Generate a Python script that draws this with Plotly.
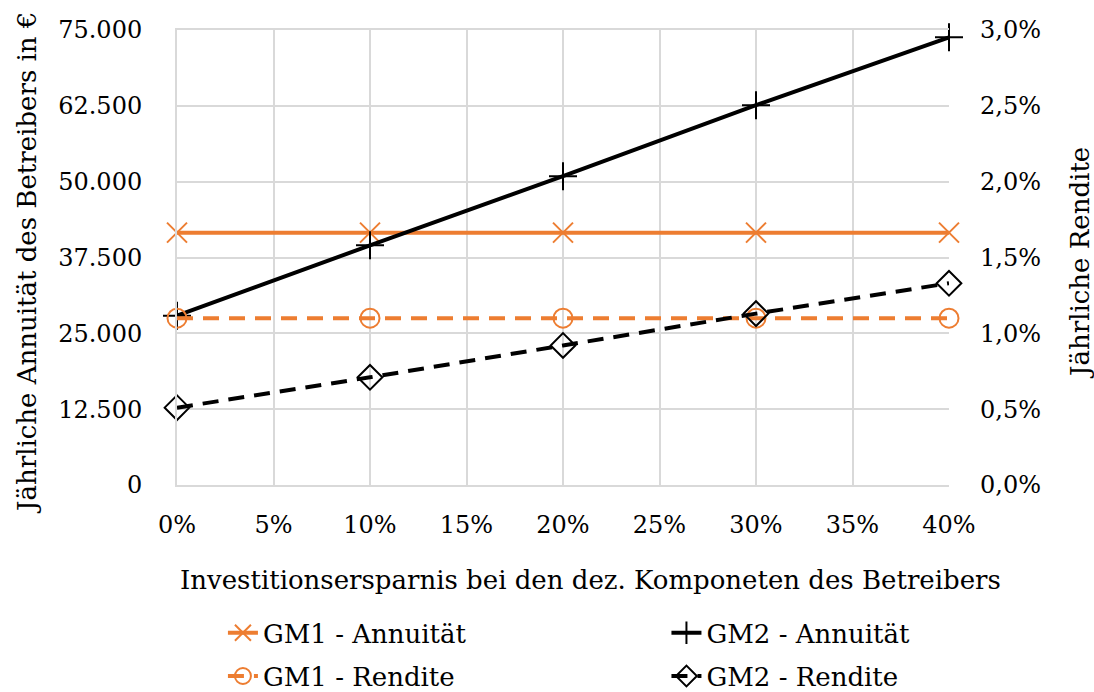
import plotly.graph_objects as go

x_vals = [0.0, 0.10, 0.20, 0.30, 0.40]
gm1_annuitaet = [41600, 41600, 41600, 41600, 41600]
gm2_annuitaet = [27900, 39500, 50900, 62600, 73800]
gm1_rendite = [0.0110, 0.0110, 0.0110, 0.0110, 0.0110]
gm2_rendite = [0.0051, 0.0071, 0.0092, 0.0113, 0.0133]

names = ["GM1 - Annuität", "GM2 - Annuität", "GM1 - Rendite", "GM2 - Rendite"]
x_title = "Investitionsersparnis bei den dez. Komponeten des Betreibers"
y_title = "Jährliche Annuität des Betreibers in €"
y2_title = "Jährliche Rendite"

ORANGE = "#ED7D31"
BLACK = "#000000"
FONT = "DejaVu Serif"
FS_TICK = 24
FS_TEXT = 26

fig = go.Figure()
fig.add_trace(go.Scatter(x=x_vals, y=gm1_annuitaet, name=names[0], mode="lines+markers", legend="legend",
                         cliponaxis=False, line=dict(color=ORANGE, width=4),
                         marker=dict(symbol="x-thin", size=20, line=dict(color=ORANGE, width=2))))
fig.add_trace(go.Scatter(x=x_vals, y=gm2_annuitaet, name=names[1], mode="lines+markers", legend="legend2",
                         cliponaxis=False, line=dict(color=BLACK, width=4),
                         marker=dict(symbol="cross-thin", size=20, line=dict(color=BLACK, width=2))))
fig.add_trace(go.Scatter(x=x_vals, y=gm1_rendite, name=names[2], mode="lines+markers", yaxis="y2", legend="legend3",
                         cliponaxis=False, line=dict(color=ORANGE, width=4, dash="16px,10px"),
                         marker=dict(symbol="circle-open", size=19, color=ORANGE, line=dict(color=ORANGE, width=2))))
fig.add_trace(go.Scatter(x=x_vals, y=gm2_rendite, name=names[3], mode="lines+markers", yaxis="y2", legend="legend4",
                         cliponaxis=False, line=dict(color=BLACK, width=4, dash="16px,10px"),
                         marker=dict(symbol="diamond-open", size=19, color=BLACK, line=dict(color=BLACK, width=2))))

grid = "#d9d9d9"
leg_common = dict(xanchor="left", yanchor="middle", font=dict(size=FS_TEXT, family=FONT),
                  bgcolor="rgba(0,0,0,0)", itemwidth=30)
row1, row2 = -0.325, -0.420
col1, col2 = 0.0595, 0.634

fig.update_layout(
    width=1094, height=692,
    margin=dict(l=177, r=145, t=30, b=207, autoexpand=False),
    paper_bgcolor="white", plot_bgcolor="white",
    separators=",.",
    font=dict(family=FONT, size=FS_TICK, color="black"),
    showlegend=True,
    xaxis=dict(range=[0, 0.40], tickvals=[0, 0.05, 0.10, 0.15, 0.20, 0.25, 0.30, 0.35, 0.40],
               tickformat=".0%", showgrid=True, gridcolor=grid, gridwidth=2,
               showline=True, linecolor=grid, linewidth=2, mirror=True, zeroline=False,
               ticks="", ticklabelstandoff=17, tickfont=dict(size=FS_TICK), automargin=False),
    yaxis=dict(range=[0, 75000], tickvals=[0, 12500, 25000, 37500, 50000, 62500, 75000],
               tickformat=",.0f", showgrid=True, gridcolor=grid, gridwidth=2,
               showline=True, linecolor=grid, linewidth=2, zeroline=False, ticks="",
               ticklabelstandoff=28, tickfont=dict(size=FS_TICK), automargin=False),
    yaxis2=dict(range=[0, 0.03], tickvals=[0, 0.005, 0.01, 0.015, 0.02, 0.025, 0.03],
                tickformat=".1%", overlaying="y", side="right", showgrid=False, zeroline=False,
                showline=False, ticks="", ticklabelstandoff=30, tickfont=dict(size=FS_TICK),
                automargin=False),
    legend=dict(x=col1, y=row1, **leg_common),
    legend2=dict(x=col2, y=row1, **leg_common),
    legend3=dict(x=col1, y=row2, **leg_common),
    legend4=dict(x=col2, y=row2, **leg_common),
    annotations=[
        dict(text=x_title, xref="paper", yref="paper", x=0.535, y=-0.2088,
             xanchor="center", yanchor="middle", showarrow=False, font=dict(size=FS_TEXT)),
        dict(text=y_title, xref="paper", yref="paper", x=-0.1943, y=0.488, textangle=-90,
             xanchor="center", yanchor="middle", showarrow=False, font=dict(size=FS_TEXT)),
        dict(text=y2_title, xref="paper", yref="paper", x=1.1697, y=0.488, textangle=-90,
             xanchor="center", yanchor="middle", showarrow=False, font=dict(size=FS_TEXT)),
    ],
)

fig.write_html("out.html", config={"displayModeBar": False},
               post_script="document.body.style.margin='0';document.body.style.overflow='hidden';")
